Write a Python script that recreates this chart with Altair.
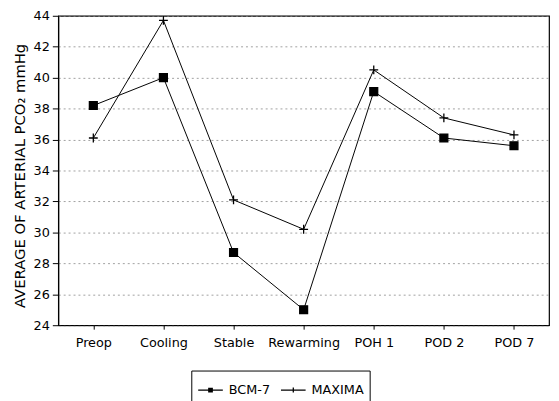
import altair as alt
import pandas as pd

categories = ["Preop", "Cooling", "Stable", "Rewarming", "POH 1", "POD 2", "POD 7"]
bcm7 = [38.2, 40.0, 28.7, 25.0, 39.1, 36.1, 35.6]
maxima = [36.1, 43.7, 32.1, 30.2, 40.5, 37.4, 36.3]
series_names = ["BCM-7", "MAXIMA"]
y_ticks = list(range(24, 45, 2))

rows = []
for name, vals in zip(series_names, [bcm7, maxima]):
    for c, v in zip(categories, vals):
        rows.append({"phase": c, "value": v, "series": name})
df = pd.DataFrame(rows)

PLUS = "M-1,0H1M0,-1V1"
# legend glyphs drawn with strokes only: line with a (hatched-solid) square, line with a plus
LEG_SQ = ("M-1,0H1"
          "M-0.14,-0.14H0.14V0.14H-0.14Z"
          "M-0.14,-0.07H0.14M-0.14,0.07H0.14"
          "M-0.07,-0.14V0.14M0.07,-0.14V0.14")
LEG_PLUS = "M-1,0H1M0,-0.2V0.2"

FONT = "DejaVu Sans"

x_enc = alt.X("phase:N", sort=categories,
              scale=alt.Scale(type="point", padding=0.5),
              axis=alt.Axis(title=None, labelAngle=0, labelFontSize=13,
                            labelPadding=8, tickSize=4, grid=False))
y_enc = alt.Y("value:Q", scale=alt.Scale(domain=[24, 44], nice=False, zero=False),
              axis=alt.Axis(values=y_ticks, title="AVERAGE OF ARTERIAL PCO₂ mmHg",
                            titleFontSize=15, titleFontWeight="normal", titlePadding=6,
                            titleY=162,
                            labelFontSize=13, labelPadding=3, tickSize=6,
                            grid=True, gridColor="#888888", gridDash=[2, 3],
                            gridWidth=0.8))

lines = alt.Chart(df).mark_line(color="black", strokeWidth=1).encode(
    x=x_enc, y=y_enc, detail="series:N"
)

points = alt.Chart(df).mark_point(
    filled=True, fill="black", stroke="black", strokeWidth=1.3, opacity=1
).encode(
    x=x_enc, y=y_enc,
    shape=alt.Shape("series:N",
                    scale=alt.Scale(domain=series_names, range=["square", PLUS]),
                    legend=None),
    size=alt.condition("datum.series === 'MAXIMA'", alt.value(81), alt.value(64))
)

legend_layer = alt.Chart(df).transform_filter("false").mark_point(
    filled=False, color="black", strokeWidth=1.3, opacity=1
).encode(
    x=x_enc, y=y_enc,
    shape=alt.Shape("series:N",
                    scale=alt.Scale(domain=series_names, range=[LEG_SQ, LEG_PLUS]),
                    legend=alt.Legend(
                        title=None, orient="none", legendX=135, legendY=360,
                        direction="horizontal", strokeColor="black", padding=6,
                        symbolSize=625, labelFont=FONT, labelFontSize=13,
                        labelColor="black", columnPadding=8, labelOffset=5,
                        symbolStrokeColor="black",
                        symbolStrokeWidth=1.3, symbolOpacity=1)),
)

chart = alt.layer(lines, points, legend_layer).resolve_scale(
    shape="independent"
).properties(
    width=498, height=314,
    autosize=alt.AutoSizeParams(type="none"),
    padding={"left": 51, "top": 5, "right": 2, "bottom": 74},
).configure(font=FONT).configure_view(
    stroke="black", strokeWidth=1.2
).configure_axis(
    domainColor="black", tickColor="black", labelColor="black", titleColor="black",
    labelFont=FONT, titleFont=FONT
)

chart.save("out.html", embed_options={"renderer": "svg", "actions": False})
